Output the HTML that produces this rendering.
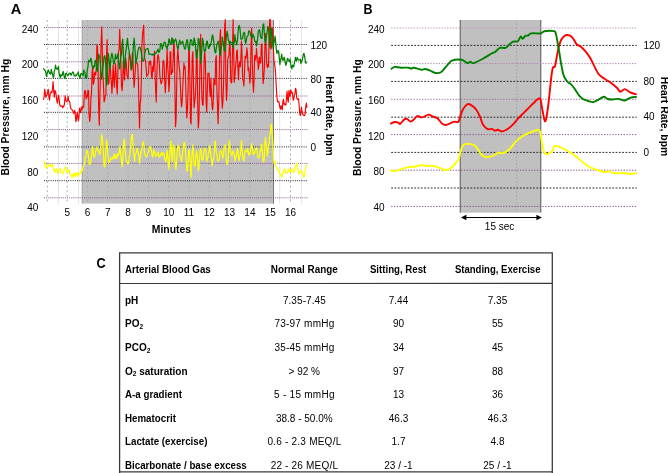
<!DOCTYPE html>
<html><head><meta charset="utf-8"><title>Figure</title>
<style>html,body{margin:0;padding:0;background:#fff;}svg{display:block;will-change:transform;}</style></head>
<body>
<svg width="668" height="473" viewBox="0 0 668 473" font-family="'Liberation Sans', sans-serif" fill="#000">
<rect width="668" height="473" fill="#fff"/>
<g id="A">
<rect x="82.2" y="20" width="191.8" height="183.6" fill="#c0c0c0"/>
<line x1="47.3" y1="20" x2="47.3" y2="203.6" stroke="#adadad" stroke-width="1" stroke-dasharray="2,2.6"/>
<line x1="67.2" y1="20" x2="67.2" y2="203.6" stroke="#adadad" stroke-width="1" stroke-dasharray="2,2.6"/>
<line x1="87.5" y1="20" x2="87.5" y2="203.6" stroke="#adadad" stroke-width="1" stroke-dasharray="2,2.6"/>
<line x1="107.8" y1="20" x2="107.8" y2="203.6" stroke="#adadad" stroke-width="1" stroke-dasharray="2,2.6"/>
<line x1="128.1" y1="20" x2="128.1" y2="203.6" stroke="#adadad" stroke-width="1" stroke-dasharray="2,2.6"/>
<line x1="148.4" y1="20" x2="148.4" y2="203.6" stroke="#adadad" stroke-width="1" stroke-dasharray="2,2.6"/>
<line x1="168.7" y1="20" x2="168.7" y2="203.6" stroke="#adadad" stroke-width="1" stroke-dasharray="2,2.6"/>
<line x1="189.0" y1="20" x2="189.0" y2="203.6" stroke="#adadad" stroke-width="1" stroke-dasharray="2,2.6"/>
<line x1="209.3" y1="20" x2="209.3" y2="203.6" stroke="#adadad" stroke-width="1" stroke-dasharray="2,2.6"/>
<line x1="229.6" y1="20" x2="229.6" y2="203.6" stroke="#adadad" stroke-width="1" stroke-dasharray="2,2.6"/>
<line x1="249.9" y1="20" x2="249.9" y2="203.6" stroke="#adadad" stroke-width="1" stroke-dasharray="2,2.6"/>
<line x1="270.2" y1="20" x2="270.2" y2="203.6" stroke="#adadad" stroke-width="1" stroke-dasharray="2,2.6"/>
<line x1="290.5" y1="20" x2="290.5" y2="203.6" stroke="#adadad" stroke-width="1" stroke-dasharray="2,2.6"/>
<line x1="58.4" y1="20" x2="58.4" y2="203.6" stroke="#dcdcdc" stroke-width="0.8"/>
<line x1="78.6" y1="20" x2="78.6" y2="203.6" stroke="#dcdcdc" stroke-width="0.8"/>
<line x1="279.7" y1="20" x2="279.7" y2="203.6" stroke="#dcdcdc" stroke-width="0.8"/>
<line x1="301.4" y1="20" x2="301.4" y2="203.6" stroke="#dcdcdc" stroke-width="0.8"/>
<line x1="82.2" y1="20" x2="82.2" y2="203.6" stroke="#a0a0a0" stroke-width="1"/>
<line x1="273.5" y1="20" x2="273.5" y2="203.6" stroke="#787878" stroke-width="1"/>
<line x1="44" y1="27.5" x2="307.5" y2="27.5" stroke="#8a548a" stroke-width="1" stroke-dasharray="1,1.1"/>
<line x1="44" y1="61.8" x2="307.5" y2="61.8" stroke="#8a548a" stroke-width="1" stroke-dasharray="1,1.1"/>
<line x1="44" y1="96" x2="307.5" y2="96" stroke="#8a548a" stroke-width="1" stroke-dasharray="1,1.1"/>
<line x1="44" y1="129.6" x2="307.5" y2="129.6" stroke="#8a548a" stroke-width="1" stroke-dasharray="1,1.1"/>
<line x1="44" y1="163.4" x2="307.5" y2="163.4" stroke="#8a548a" stroke-width="1" stroke-dasharray="1,1.1"/>
<line x1="44" y1="197.8" x2="307.5" y2="197.8" stroke="#8a548a" stroke-width="1" stroke-dasharray="1,1.1"/>
<line x1="44" y1="44.5" x2="307.5" y2="44.5" stroke="#222" stroke-width="1" stroke-dasharray="1,1.2"/>
<line x1="44" y1="78.4" x2="307.5" y2="78.4" stroke="#222" stroke-width="1" stroke-dasharray="1,1.2"/>
<line x1="44" y1="112.3" x2="307.5" y2="112.3" stroke="#222" stroke-width="1" stroke-dasharray="1,1.2"/>
<line x1="44" y1="146.9" x2="307.5" y2="146.9" stroke="#222" stroke-width="1" stroke-dasharray="1,1.2"/>
<line x1="44" y1="180.7" x2="307.5" y2="180.7" stroke="#222" stroke-width="1" stroke-dasharray="1,1.2"/>
<path d="M43.5,161.3 L44.1,161.2 L44.7,162.6 L45.3,166.7 L45.9,165.2 L46.5,168.0 L47.1,168.1 L47.7,166.4 L48.3,165.8 L48.9,164.9 L49.5,165.9 L50.1,164.4 L50.7,165.6 L51.3,166.4 L51.9,164.3 L52.5,166.3 L53.1,167.8 L53.7,168.2 L54.3,172.1 L54.9,172.6 L55.5,169.6 L56.1,170.4 L56.7,168.8 L57.3,169.8 L57.9,173.3 L58.5,170.5 L59.1,169.7 L59.7,169.3 L60.3,168.5 L60.9,171.2 L61.5,173.1 L62.1,173.2 L62.7,174.1 L63.3,172.3 L63.9,170.2 L64.5,168.1 L65.1,166.9 L65.7,168.7 L66.3,169.8 L66.9,172.4 L67.5,171.9 L68.1,170.2 L68.7,170.0 L69.3,170.0 L69.9,174.3 L70.5,174.6 L71.1,174.8 L71.7,177.0 L72.3,174.9 L72.9,174.5 L73.5,177.3 L74.1,173.0 L74.7,173.6 L75.3,176.4 L75.9,173.1 L76.5,174.9 L77.1,175.2 L77.7,172.6 L78.3,176.5 L78.9,174.0 L79.5,173.6 L80.1,173.8 L80.7,171.2 L81.3,172.3 L81.9,169.5 L82.5,170.3 L83.1,166.9 L83.7,165.7 L84.3,164.8 L84.9,159.5 L85.5,156.3 L86.1,156.0 L86.7,150.0 L87.3,150.6 L87.9,153.2 L88.5,156.8 L89.1,164.2 L89.7,163.9 L90.3,164.1 L90.9,160.3 L91.5,155.7 L92.1,150.4 L92.7,146.7 L93.3,152.3 L93.9,157.3 L94.5,156.4 L95.1,155.3 L95.7,150.5 L96.3,149.2 L96.9,146.8 L97.5,150.2 L98.1,150.8 L98.7,150.6 L99.3,153.3 L99.9,154.7 L100.5,151.5 L101.1,141.4 L101.7,134.9 L102.3,137.6 L102.9,145.3 L103.5,154.3 L104.1,166.0 L104.7,166.9 L105.3,161.0 L105.9,151.0 L106.5,140.1 L107.1,142.6 L107.7,152.6 L108.3,159.8 L108.9,162.7 L109.5,161.8 L110.1,161.3 L110.7,158.1 L111.3,158.5 L111.9,159.2 L112.5,157.1 L113.1,158.7 L113.7,158.4 L114.3,154.2 L114.9,158.2 L115.5,156.4 L116.1,154.8 L116.7,158.6 L117.3,155.3 L117.9,153.4 L118.5,155.6 L119.1,153.2 L119.7,146.9 L120.3,151.2 L120.9,155.2 L121.5,160.9 L122.1,166.6 L122.7,160.3 L123.3,148.0 L123.9,139.1 L124.5,141.3 L125.1,148.7 L125.7,155.9 L126.3,160.0 L126.9,162.9 L127.5,163.5 L128.1,163.9 L128.7,161.6 L129.3,156.2 L129.9,154.6 L130.5,149.0 L131.1,141.5 L131.7,135.6 L132.3,134.3 L132.9,144.1 L133.5,151.3 L134.1,156.4 L134.7,161.3 L135.3,154.0 L135.9,153.5 L136.5,151.5 L137.1,148.1 L137.7,151.0 L138.3,153.4 L138.9,155.8 L139.5,163.4 L140.1,158.4 L140.7,152.1 L141.3,153.1 L141.9,148.1 L142.5,143.7 L143.1,141.8 L143.7,143.2 L144.3,150.3 L144.9,154.3 L145.5,155.8 L146.1,156.9 L146.7,156.6 L147.3,155.3 L147.9,153.3 L148.5,151.8 L149.1,148.0 L149.7,146.5 L150.3,146.8 L150.9,148.0 L151.5,150.8 L152.1,155.0 L152.7,157.4 L153.3,154.2 L153.9,150.0 L154.5,151.5 L155.1,153.3 L155.7,156.2 L156.3,156.0 L156.9,155.1 L157.5,153.4 L158.1,151.9 L158.7,155.5 L159.3,157.2 L159.9,156.7 L160.5,154.6 L161.1,153.5 L161.7,152.6 L162.3,155.6 L162.9,154.8 L163.5,152.7 L164.1,155.3 L164.7,158.9 L165.3,159.3 L165.9,161.5 L166.5,156.8 L167.1,150.4 L167.7,154.3 L168.3,164.0 L168.9,169.2 L169.5,159.0 L170.1,147.5 L170.7,141.1 L171.3,147.6 L171.9,158.4 L172.5,161.2 L173.1,146.0 L173.7,145.1 L174.3,149.1 L174.9,159.5 L175.5,168.8 L176.1,168.7 L176.7,159.2 L177.3,151.2 L177.9,146.7 L178.5,145.3 L179.1,147.1 L179.7,155.0 L180.3,157.8 L180.9,158.0 L181.5,161.3 L182.1,157.6 L182.7,151.8 L183.3,148.0 L183.9,142.8 L184.5,142.4 L185.1,146.8 L185.7,155.3 L186.3,161.1 L186.9,170.9 L187.5,170.8 L188.1,159.8 L188.7,150.9 L189.3,149.6 L189.9,157.4 L190.5,168.8 L191.1,177.6 L191.7,161.4 L192.3,151.0 L192.9,144.9 L193.5,154.8 L194.1,164.5 L194.7,166.4 L195.3,164.4 L195.9,157.2 L196.5,151.0 L197.1,153.5 L197.7,159.8 L198.3,170.7 L198.9,169.0 L199.5,159.2 L200.1,150.8 L200.7,148.3 L201.3,151.2 L201.9,159.2 L202.5,160.3 L203.1,159.4 L203.7,154.7 L204.3,148.8 L204.9,148.7 L205.5,148.6 L206.1,153.5 L206.7,161.3 L207.3,159.7 L207.9,157.3 L208.5,154.1 L209.1,150.2 L209.7,145.4 L210.3,150.6 L210.9,155.2 L211.5,158.5 L212.1,165.9 L212.7,160.5 L213.3,159.8 L213.9,156.4 L214.5,148.9 L215.1,140.8 L215.7,145.6 L216.3,151.6 L216.9,153.7 L217.5,160.8 L218.1,160.8 L218.7,160.9 L219.3,159.3 L219.9,153.5 L220.5,151.2 L221.1,150.6 L221.7,152.3 L222.3,154.8 L222.9,158.3 L223.5,153.4 L224.1,147.0 L224.7,146.3 L225.3,144.8 L225.9,153.1 L226.5,161.3 L227.1,164.5 L227.7,163.3 L228.3,159.0 L228.9,146.1 L229.5,140.4 L230.1,149.8 L230.7,152.1 L231.3,153.7 L231.9,156.2 L232.5,152.6 L233.1,150.6 L233.7,152.8 L234.3,153.8 L234.9,161.1 L235.5,158.4 L236.1,156.6 L236.7,154.3 L237.3,148.7 L237.9,150.2 L238.5,157.9 L239.1,160.7 L239.7,156.3 L240.3,155.0 L240.9,146.9 L241.5,140.6 L242.1,149.6 L242.7,157.0 L243.3,160.0 L243.9,161.1 L244.5,153.8 L245.1,150.8 L245.7,151.6 L246.3,150.7 L246.9,151.9 L247.5,148.4 L248.1,150.5 L248.7,154.9 L249.3,153.1 L249.9,154.6 L250.5,151.8 L251.1,146.5 L251.7,143.7 L252.3,147.9 L252.9,153.7 L253.5,154.5 L254.1,152.9 L254.7,153.0 L255.3,149.2 L255.9,149.1 L256.5,147.8 L257.1,149.7 L257.7,156.7 L258.3,158.1 L258.9,156.9 L259.5,157.0 L260.1,150.6 L260.7,151.7 L261.3,144.9 L261.9,144.0 L262.5,153.0 L263.1,161.5 L263.7,161.9 L264.3,157.9 L264.9,144.0 L265.5,137.5 L266.1,143.8 L266.7,147.0 L267.3,156.2 L267.9,151.5 L268.5,145.8 L269.1,144.2 L269.7,136.5 L270.3,133.2 L270.9,125.7 L271.5,124.2 L272.1,132.9 L272.7,141.1 L273.3,151.8 L273.9,162.8 L274.5,162.8 L275.1,161.3 L275.7,166.4 L276.3,166.7 L276.9,167.6 L277.5,169.9 L278.1,168.9 L278.7,170.9 L279.3,172.5 L279.9,174.4 L280.5,174.2 L281.1,175.5 L281.7,177.3 L282.3,174.8 L282.9,173.6 L283.5,171.3 L284.1,168.9 L284.7,169.5 L285.3,170.9 L285.9,173.3 L286.5,172.9 L287.1,172.7 L287.7,172.7 L288.3,168.7 L288.9,170.5 L289.5,171.4 L290.1,171.1 L290.7,171.6 L291.3,169.7 L291.9,168.9 L292.5,169.0 L293.1,171.5 L293.7,172.7 L294.3,170.8 L294.9,168.7 L295.5,166.2 L296.1,165.2 L296.7,163.1 L297.3,165.5 L297.9,170.1 L298.5,170.3 L299.1,174.1 L299.7,172.5 L300.3,171.9 L300.9,171.4 L301.5,170.1 L302.1,172.9 L302.7,173.2 L303.3,176.2 L303.9,177.4 L304.5,174.5 L305.1,171.9 L305.7,168.0 L306.3,165.8 L306.9,164.4" fill="none" stroke="#ffff00" stroke-width="1.25" stroke-linejoin="round"/>
<path d="M43.5,100.0 L44.1,96.5 L44.7,89.2 L45.3,93.2 L45.9,97.3 L46.5,95.8 L47.1,94.7 L47.7,91.3 L48.3,89.4 L48.9,96.9 L49.5,100.1 L50.1,94.2 L50.7,92.6 L51.3,91.6 L51.9,92.7 L52.5,88.6 L53.1,81.5 L53.7,90.6 L54.3,97.2 L54.9,90.5 L55.5,91.3 L56.1,94.7 L56.7,100.0 L57.3,103.2 L57.9,99.3 L58.5,95.3 L59.1,98.3 L59.7,104.8 L60.3,106.2 L60.9,105.9 L61.5,106.1 L62.1,106.0 L62.7,107.8 L63.3,106.2 L63.9,106.4 L64.5,103.3 L65.1,95.7 L65.7,99.7 L66.3,101.4 L66.9,101.7 L67.5,100.7 L68.1,96.4 L68.7,100.7 L69.3,101.2 L69.9,102.6 L70.5,107.7 L71.1,109.0 L71.7,109.2 L72.3,110.2 L72.9,110.9 L73.5,113.3 L74.1,113.2 L74.7,110.4 L75.3,114.8 L75.9,121.8 L76.5,118.9 L77.1,112.4 L77.7,115.2 L78.3,120.9 L78.9,117.7 L79.5,108.2 L80.1,111.9 L80.7,112.8 L81.3,107.1 L81.9,109.6 L82.5,106.7 L83.1,107.4 L83.7,107.2 L84.3,94.7 L84.9,90.3 L85.5,91.3 L86.1,98.9 L86.7,95.3 L87.3,97.1 L87.9,90.3 L88.5,90.5 L89.1,114.7 L89.7,121.5 L90.3,115.2 L90.9,98.9 L91.5,93.2 L92.1,72.7 L92.7,66.7 L93.3,84.3 L93.9,82.4 L94.5,73.6 L95.1,72.2 L95.7,75.2 L96.3,68.5 L96.9,44.9 L97.5,47.2 L98.1,71.5 L98.7,109.5 L99.3,125.1 L99.9,95.9 L100.5,70.5 L101.1,43.8 L101.7,26.8 L102.3,49.4 L102.9,75.0 L103.5,85.7 L104.1,101.9 L104.7,99.8 L105.3,95.2 L105.9,95.2 L106.5,55.3 L107.1,39.7 L107.7,73.2 L108.3,84.1 L108.9,83.4 L109.5,69.2 L110.1,62.9 L110.7,73.7 L111.3,81.3 L111.9,93.3 L112.5,83.4 L113.1,65.0 L113.7,76.7 L114.3,87.3 L114.9,75.3 L115.5,63.7 L116.1,74.4 L116.7,87.8 L117.3,93.9 L117.9,70.6 L118.5,51.3 L119.1,50.0 L119.7,29.4 L120.3,45.3 L120.9,63.1 L121.5,86.3 L122.1,90.7 L122.7,82.0 L123.3,61.4 L123.9,67.8 L124.5,79.9 L125.1,70.8 L125.7,58.2 L126.3,63.2 L126.9,75.3 L127.5,76.3 L128.1,78.9 L128.7,63.1 L129.3,53.4 L129.9,55.6 L130.5,59.2 L131.1,67.4 L131.7,70.0 L132.3,53.0 L132.9,55.2 L133.5,74.4 L134.1,87.3 L134.7,80.0 L135.3,69.6 L135.9,59.3 L136.5,62.5 L137.1,63.2 L137.7,64.5 L138.3,78.2 L138.9,103.2 L139.5,128.0 L140.1,104.3 L140.7,99.8 L141.3,81.2 L141.9,45.7 L142.5,35.4 L143.1,30.1 L143.7,25.2 L144.3,54.7 L144.9,59.7 L145.5,60.4 L146.1,67.9 L146.7,76.5 L147.3,75.4 L147.9,74.7 L148.5,72.7 L149.1,61.9 L149.7,64.3 L150.3,60.9 L150.9,64.1 L151.5,76.3 L152.1,78.6 L152.7,66.4 L153.3,71.3 L153.9,60.3 L154.5,51.1 L155.1,75.1 L155.7,91.4 L156.3,101.9 L156.9,71.8 L157.5,58.2 L158.1,54.3 L158.7,57.5 L159.3,63.3 L159.9,76.4 L160.5,80.1 L161.1,83.8 L161.7,82.7 L162.3,79.4 L162.9,62.4 L163.5,60.3 L164.1,64.4 L164.7,81.4 L165.3,92.7 L165.9,82.8 L166.5,64.7 L167.1,48.9 L167.7,66.3 L168.3,75.1 L168.9,91.6 L169.5,82.0 L170.1,52.1 L170.7,51.7 L171.3,74.6 L171.9,70.4 L172.5,72.5 L173.1,61.3 L173.7,39.7 L174.3,47.1 L174.9,84.4 L175.5,126.7 L176.1,118.8 L176.7,85.1 L177.3,57.3 L177.9,49.4 L178.5,58.1 L179.1,66.5 L179.7,70.6 L180.3,83.3 L180.9,97.7 L181.5,106.8 L182.1,102.3 L182.7,87.9 L183.3,76.2 L183.9,63.0 L184.5,68.9 L185.1,66.5 L185.7,84.2 L186.3,103.9 L186.9,118.0 L187.5,107.5 L188.1,89.6 L188.7,51.8 L189.3,48.9 L189.9,79.8 L190.5,120.1 L191.1,123.9 L191.7,85.7 L192.3,56.1 L192.9,51.6 L193.5,85.6 L194.1,107.8 L194.7,102.1 L195.3,96.3 L195.9,83.8 L196.5,49.9 L197.1,55.6 L197.7,103.9 L198.3,128.0 L198.9,120.1 L199.5,90.0 L200.1,57.5 L200.7,34.4 L201.3,67.3 L201.9,96.4 L202.5,105.0 L203.1,105.1 L203.7,80.6 L204.3,55.0 L204.9,51.3 L205.5,65.9 L206.1,101.6 L206.7,112.0 L207.3,90.3 L207.9,73.2 L208.5,73.3 L209.1,73.2 L209.7,90.4 L210.3,96.7 L210.9,78.3 L211.5,93.8 L212.1,106.8 L212.7,109.8 L213.3,101.2 L213.9,78.9 L214.5,83.9 L215.1,84.8 L215.7,58.8 L216.3,55.6 L216.9,89.0 L217.5,106.2 L218.1,123.7 L218.7,103.0 L219.3,75.0 L219.9,38.2 L220.5,29.6 L221.1,57.0 L221.7,95.8 L222.3,108.3 L222.9,101.7 L223.5,85.9 L224.1,55.3 L224.7,25.6 L225.3,19.5 L225.9,81.9 L226.5,100.3 L227.1,88.3 L227.7,60.7 L228.3,57.3 L228.9,55.8 L229.5,41.7 L230.1,44.7 L230.7,79.8 L231.3,83.0 L231.9,81.3 L232.5,49.4 L233.1,19.5 L233.7,53.0 L234.3,82.3 L234.9,77.4 L235.5,67.2 L236.1,61.7 L236.7,50.8 L237.3,50.0 L237.9,67.6 L238.5,79.7 L239.1,64.6 L239.7,61.7 L240.3,66.9 L240.9,58.2 L241.5,41.0 L242.1,57.8 L242.7,79.5 L243.3,80.8 L243.9,85.9 L244.5,73.2 L245.1,56.1 L245.7,58.7 L246.3,56.8 L246.9,47.8 L247.5,54.1 L248.1,70.7 L248.7,67.8 L249.3,74.9 L249.9,83.1 L250.5,75.7 L251.1,42.9 L251.7,28.2 L252.3,61.9 L252.9,82.0 L253.5,92.2 L254.1,79.5 L254.7,55.9 L255.3,55.3 L255.9,60.0 L256.5,48.3 L257.1,56.8 L257.7,58.0 L258.3,69.5 L258.9,65.1 L259.5,57.2 L260.1,62.1 L260.7,63.2 L261.3,46.2 L261.9,43.8 L262.5,62.4 L263.1,83.6 L263.7,77.3 L264.3,69.9 L264.9,48.3 L265.5,33.6 L266.1,48.3 L266.7,62.9 L267.3,67.7 L267.9,64.3 L268.5,66.7 L269.1,41.4 L269.7,19.5 L270.3,19.5 L270.9,49.1 L271.5,47.3 L272.1,40.5 L272.7,27.7 L273.3,43.5 L273.9,60.1 L274.5,63.7 L275.1,67.9 L275.7,75.4 L276.3,87.3 L276.9,96.8 L277.5,101.6 L278.1,102.0 L278.7,101.4 L279.3,103.9 L279.9,107.6 L280.5,109.2 L281.1,105.6 L281.7,107.6 L282.3,109.8 L282.9,101.4 L283.5,99.3 L284.1,104.6 L284.7,103.7 L285.3,104.0 L285.9,105.2 L286.5,97.7 L287.1,91.2 L287.7,99.6 L288.3,102.1 L288.9,90.5 L289.5,93.1 L290.1,97.0 L290.7,90.0 L291.3,91.2 L291.9,93.3 L292.5,92.5 L293.1,100.1 L293.7,99.6 L294.3,95.3 L294.9,94.3 L295.5,88.4 L296.1,89.8 L296.7,97.7 L297.3,99.4 L297.9,99.1 L298.5,98.7 L299.1,104.8 L299.7,112.6 L300.3,115.7 L300.9,111.8 L301.5,107.2 L302.1,112.0 L302.7,114.5 L303.3,114.7 L303.9,115.7 L304.5,115.4 L305.1,114.1 L305.7,107.2 L306.3,103.0 L306.9,107.8" fill="none" stroke="#ff0000" stroke-width="1.15" stroke-linejoin="round"/>
<path d="M43.5,68.1 L44.1,69.7 L44.7,70.1 L45.3,70.7 L45.9,72.7 L46.5,76.3 L47.1,73.9 L47.7,71.7 L48.3,70.0 L48.9,71.4 L49.5,73.7 L50.1,73.1 L50.7,74.2 L51.3,69.3 L51.9,72.0 L52.5,73.9 L53.1,77.2 L53.7,77.2 L54.3,71.0 L54.9,70.0 L55.5,65.1 L56.1,68.0 L56.7,69.0 L57.3,69.4 L57.9,68.0 L58.5,66.6 L59.1,73.8 L59.7,75.7 L60.3,77.6 L60.9,74.6 L61.5,75.8 L62.1,75.7 L62.7,73.0 L63.3,71.5 L63.9,74.9 L64.5,77.8 L65.1,78.5 L65.7,73.6 L66.3,73.2 L66.9,74.1 L67.5,74.7 L68.1,75.6 L68.7,73.8 L69.3,73.9 L69.9,73.0 L70.5,73.7 L71.1,75.3 L71.7,73.7 L72.3,72.8 L72.9,71.9 L73.5,72.9 L74.1,75.9 L74.7,76.0 L75.3,75.8 L75.9,74.9 L76.5,75.6 L77.1,74.0 L77.7,73.3 L78.3,71.9 L78.9,76.2 L79.5,75.9 L80.1,78.5 L80.7,73.8 L81.3,74.1 L81.9,73.6 L82.5,74.4 L83.1,75.7 L83.7,70.1 L84.3,71.5 L84.9,72.1 L85.5,77.7 L86.1,75.1 L86.7,78.2 L87.3,69.0 L87.9,67.7 L88.5,60.3 L89.1,61.4 L89.7,61.9 L90.3,60.2 L90.9,58.2 L91.5,61.1 L92.1,66.4 L92.7,66.7 L93.3,68.5 L93.9,65.6 L94.5,66.7 L95.1,60.7 L95.7,60.5 L96.3,64.0 L96.9,71.0 L97.5,71.3 L98.1,62.9 L98.7,54.1 L99.3,56.4 L99.9,57.7 L100.5,65.9 L101.1,74.0 L101.7,79.3 L102.3,74.1 L102.9,67.5 L103.5,62.8 L104.1,56.4 L104.7,55.8 L105.3,58.8 L105.9,68.5 L106.5,85.3 L107.1,82.4 L107.7,63.0 L108.3,53.3 L108.9,58.3 L109.5,64.2 L110.1,68.6 L110.7,60.9 L111.3,55.6 L111.9,53.1 L112.5,55.3 L113.1,60.5 L113.7,64.1 L114.3,63.3 L114.9,59.3 L115.5,54.1 L116.1,58.8 L116.7,58.0 L117.3,56.7 L117.9,54.0 L118.5,60.8 L119.1,65.2 L119.7,69.0 L120.3,61.1 L120.9,55.9 L121.5,54.9 L122.1,43.3 L122.7,39.1 L123.3,51.8 L123.9,67.2 L124.5,68.4 L125.1,59.1 L125.7,52.1 L126.3,48.2 L126.9,42.6 L127.5,38.3 L128.1,45.6 L128.7,48.8 L129.3,52.1 L129.9,57.5 L130.5,61.3 L131.1,69.9 L131.7,68.1 L132.3,63.4 L132.9,54.0 L133.5,44.3 L134.1,38.2 L134.7,44.7 L135.3,54.0 L135.9,63.3 L136.5,60.0 L137.1,57.7 L137.7,52.1 L138.3,49.4 L138.9,47.3 L139.5,47.2 L140.1,47.3 L140.7,50.1 L141.3,52.5 L141.9,57.4 L142.5,60.9 L143.1,61.0 L143.7,60.9 L144.3,57.1 L144.9,53.0 L145.5,49.7 L146.1,49.2 L146.7,49.0 L147.3,48.5 L147.9,48.7 L148.5,50.9 L149.1,54.5 L149.7,54.2 L150.3,54.0 L150.9,54.0 L151.5,54.7 L152.1,55.0 L152.7,54.2 L153.3,55.0 L153.9,54.2 L154.5,54.6 L155.1,53.5 L155.7,53.1 L156.3,53.0 L156.9,51.2 L157.5,51.3 L158.1,49.0 L158.7,52.1 L159.3,51.9 L159.9,50.5 L160.5,43.6 L161.1,43.5 L161.7,44.7 L162.3,49.1 L162.9,45.7 L163.5,45.8 L164.1,42.1 L164.7,42.2 L165.3,42.7 L165.9,46.6 L166.5,46.5 L167.1,49.0 L167.7,45.7 L168.3,45.1 L168.9,38.8 L169.5,39.9 L170.1,42.6 L170.7,44.3 L171.3,43.7 L171.9,37.8 L172.5,38.7 L173.1,43.9 L173.7,43.2 L174.3,40.8 L174.9,40.9 L175.5,38.9 L176.1,40.5 L176.7,43.0 L177.3,47.6 L177.9,49.2 L178.5,47.0 L179.1,42.8 L179.7,40.1 L180.3,42.9 L180.9,43.6 L181.5,43.1 L182.1,42.1 L182.7,41.1 L183.3,44.3 L183.9,45.8 L184.5,48.9 L185.1,49.1 L185.7,47.7 L186.3,42.3 L186.9,39.7 L187.5,40.5 L188.1,46.3 L188.7,50.2 L189.3,49.9 L189.9,44.1 L190.5,39.8 L191.1,39.9 L191.7,40.1 L192.3,45.1 L192.9,44.1 L193.5,45.3 L194.1,37.9 L194.7,39.8 L195.3,43.9 L195.9,51.5 L196.5,58.4 L197.1,56.8 L197.7,49.8 L198.3,38.6 L198.9,38.6 L199.5,44.6 L200.1,51.4 L200.7,63.4 L201.3,57.9 L201.9,48.8 L202.5,38.3 L203.1,40.9 L203.7,46.0 L204.3,51.6 L204.9,50.0 L205.5,50.7 L206.1,45.7 L206.7,41.6 L207.3,41.1 L207.9,45.0 L208.5,48.4 L209.1,48.0 L209.7,44.8 L210.3,45.9 L210.9,43.6 L211.5,40.9 L212.1,36.2 L212.7,35.0 L213.3,38.4 L213.9,42.8 L214.5,49.1 L215.1,52.3 L215.7,52.9 L216.3,48.2 L216.9,44.5 L217.5,42.9 L218.1,41.1 L218.7,44.5 L219.3,49.0 L219.9,55.5 L220.5,54.1 L221.1,49.0 L221.7,44.8 L222.3,37.0 L222.9,41.5 L223.5,42.9 L224.1,49.9 L224.7,50.9 L225.3,49.8 L225.9,42.0 L226.5,35.9 L227.1,31.1 L227.7,34.6 L228.3,40.1 L228.9,41.5 L229.5,44.2 L230.1,41.1 L230.7,43.0 L231.3,42.8 L231.9,42.5 L232.5,42.7 L233.1,47.9 L233.7,44.4 L234.3,42.0 L234.9,34.7 L235.5,40.3 L236.1,42.1 L236.7,44.9 L237.3,41.0 L237.9,34.6 L238.5,27.8 L239.1,25.4 L239.7,27.3 L240.3,31.7 L240.9,39.2 L241.5,38.7 L242.1,38.9 L242.7,37.9 L243.3,34.0 L243.9,32.7 L244.5,32.3 L245.1,40.3 L245.7,43.3 L246.3,40.7 L246.9,36.9 L247.5,36.2 L248.1,35.4 L248.7,31.0 L249.3,31.1 L249.9,31.7 L250.5,34.0 L251.1,36.5 L251.7,36.7 L252.3,37.9 L252.9,34.0 L253.5,36.1 L254.1,37.1 L254.7,41.1 L255.3,41.9 L255.9,41.3 L256.5,46.0 L257.1,42.4 L257.7,38.4 L258.3,31.8 L258.9,30.5 L259.5,29.7 L260.1,33.7 L260.7,37.2 L261.3,38.3 L261.9,38.4 L262.5,30.1 L263.1,24.7 L263.7,23.8 L264.3,32.8 L264.9,40.4 L265.5,43.0 L266.1,39.0 L266.7,35.2 L267.3,30.5 L267.9,26.5 L268.5,27.9 L269.1,36.2 L269.7,47.2 L270.3,43.2 L270.9,29.0 L271.5,28.1 L272.1,38.3 L272.7,43.4 L273.3,48.8 L273.9,42.9 L274.5,40.3 L275.1,36.2 L275.7,42.6 L276.3,48.8 L276.9,53.5 L277.5,51.4 L278.1,50.5 L278.7,52.1 L279.3,58.6 L279.9,64.5 L280.5,59.9 L281.1,58.2 L281.7,54.1 L282.3,59.4 L282.9,60.4 L283.5,59.7 L284.1,57.2 L284.7,59.2 L285.3,63.0 L285.9,65.4 L286.5,63.1 L287.1,60.2 L287.7,58.3 L288.3,60.3 L288.9,60.6 L289.5,61.6 L290.1,59.0 L290.7,63.9 L291.3,67.2 L291.9,68.9 L292.5,65.2 L293.1,65.9 L293.7,66.8 L294.3,63.4 L294.9,60.7 L295.5,57.4 L296.1,60.6 L296.7,60.7 L297.3,57.5 L297.9,59.3 L298.5,59.8 L299.1,60.1 L299.7,59.7 L300.3,59.1 L300.9,63.7 L301.5,61.0 L302.1,60.7 L302.7,58.2 L303.3,54.5 L303.9,53.3 L304.5,55.4 L305.1,59.7 L305.7,63.0 L306.3,62.9 L306.9,63.1" fill="none" stroke="#008000" stroke-width="1.25" stroke-linejoin="round"/>
<text x="10.8" y="13.9" font-size="14.6" font-weight="bold">A</text>
<text x="38.4" y="32.7" font-size="10" text-anchor="end">240</text>
<text x="38.4" y="68.4" font-size="10" text-anchor="end">200</text>
<text x="38.4" y="104.1" font-size="10" text-anchor="end">160</text>
<text x="38.4" y="139.9" font-size="10" text-anchor="end">120</text>
<text x="38.4" y="175.6" font-size="10" text-anchor="end">80</text>
<text x="38.4" y="211.3" font-size="10" text-anchor="end">40</text>
<text x="310.5" y="48.6" font-size="10">120</text>
<text x="310.5" y="83.2" font-size="10">80</text>
<text x="310.5" y="115.9" font-size="10">40</text>
<text x="310.5" y="150.5" font-size="10">0</text>
<text x="67.2" y="216.4" font-size="10" text-anchor="middle">5</text>
<text x="87.5" y="216.4" font-size="10" text-anchor="middle">6</text>
<text x="107.8" y="216.4" font-size="10" text-anchor="middle">7</text>
<text x="128.1" y="216.4" font-size="10" text-anchor="middle">8</text>
<text x="148.4" y="216.4" font-size="10" text-anchor="middle">9</text>
<text x="168.7" y="216.4" font-size="10" text-anchor="middle">10</text>
<text x="189.0" y="216.4" font-size="10" text-anchor="middle">11</text>
<text x="209.3" y="216.4" font-size="10" text-anchor="middle">12</text>
<text x="229.6" y="216.4" font-size="10" text-anchor="middle">13</text>
<text x="249.9" y="216.4" font-size="10" text-anchor="middle">14</text>
<text x="270.2" y="216.4" font-size="10" text-anchor="middle">15</text>
<text x="290.5" y="216.4" font-size="10" text-anchor="middle">16</text>
<text x="171.4" y="233.3" font-size="10.4" font-weight="bold" text-anchor="middle">Minutes</text>
<text transform="translate(9.0,117.1) rotate(-90)" font-size="10.3" font-weight="bold" text-anchor="middle">Blood Pressure, mm Hg</text>
<text transform="translate(326.3,116) rotate(90)" font-size="10.35" font-weight="bold" text-anchor="middle">Heart Rate, bpm</text>
</g>
<g id="B">
<rect x="460.2" y="20.0" width="80.59999999999997" height="192.6" fill="#c0c0c0"/>
<line x1="516.7" y1="20.0" x2="516.7" y2="212.6" stroke="#999" stroke-width="0.8" stroke-dasharray="1.5,2"/>
<line x1="460.2" y1="20.0" x2="460.2" y2="212.6" stroke="#555" stroke-width="1"/>
<line x1="540.8" y1="20.0" x2="540.8" y2="212.6" stroke="#555" stroke-width="1"/>
<line x1="391.2" y1="28.0" x2="636.8" y2="28.0" stroke="#ba98ba" stroke-width="1" stroke-dasharray="1.3,1.5"/>
<line x1="391.2" y1="63.6" x2="636.8" y2="63.6" stroke="#ac84ac" stroke-width="1" stroke-dasharray="1.3,1.5"/>
<line x1="391.2" y1="99.3" x2="636.8" y2="99.3" stroke="#a070a0" stroke-width="1" stroke-dasharray="1.3,1.5"/>
<line x1="391.2" y1="134.6" x2="636.8" y2="134.6" stroke="#925a92" stroke-width="1" stroke-dasharray="1.3,1.5"/>
<line x1="391.2" y1="170.2" x2="636.8" y2="170.2" stroke="#8a4e8a" stroke-width="1" stroke-dasharray="1.3,1.5"/>
<line x1="391.2" y1="206.4" x2="636.8" y2="206.4" stroke="#8a4e8a" stroke-width="1" stroke-dasharray="1.3,1.5"/>
<line x1="391.2" y1="45.4" x2="636.8" y2="45.4" stroke="#2a2a2a" stroke-width="1" stroke-dasharray="1.8,1.5"/>
<line x1="391.2" y1="81.4" x2="636.8" y2="81.4" stroke="#2a2a2a" stroke-width="1" stroke-dasharray="1.8,1.5"/>
<line x1="391.2" y1="117.2" x2="636.8" y2="117.2" stroke="#2a2a2a" stroke-width="1" stroke-dasharray="1.8,1.5"/>
<line x1="391.2" y1="152.4" x2="636.8" y2="152.4" stroke="#2a2a2a" stroke-width="1" stroke-dasharray="1.8,1.5"/>
<line x1="391.2" y1="188.0" x2="636.8" y2="188.0" stroke="#2a2a2a" stroke-width="1" stroke-dasharray="1.8,1.5"/>
<path d="M390.3,170.1 C391.0,170.3 392.5,171.3 394.5,171.1 C396.5,170.9 399.6,169.5 402.1,168.8 C404.6,168.1 407.5,167.2 409.7,166.9 C411.9,166.6 413.5,167.0 415.4,166.7 C417.3,166.4 419.4,165.1 421.1,165.0 C422.9,164.9 423.8,165.8 425.9,165.9 C428.0,166.1 431.1,165.5 433.5,165.9 C435.9,166.3 438.1,167.5 440.2,168.2 C442.3,168.9 444.2,170.3 445.9,170.3 C447.6,170.3 449.0,169.3 450.6,168.2 C452.2,167.1 454.0,165.1 455.4,163.5 C456.8,161.9 457.9,160.8 458.8,158.7 C459.7,156.6 460.0,153.3 460.7,151.1 C461.4,148.9 462.0,146.6 463.0,145.4 C464.0,144.2 465.1,144.0 466.8,143.9 C468.5,143.8 471.7,144.1 473.4,144.8 C475.1,145.5 475.9,146.8 477.2,148.3 C478.5,149.8 479.7,152.6 481.0,154.0 C482.3,155.4 483.4,156.3 484.8,156.8 C486.2,157.3 488.0,157.1 489.6,156.8 C491.2,156.5 492.9,155.6 494.4,154.9 C495.9,154.2 497.6,152.7 498.8,152.4 C500.0,152.2 500.6,153.5 501.7,153.4 C502.8,153.3 504.1,152.9 505.5,152.1 C506.9,151.2 508.5,150.1 510.2,148.3 C511.9,146.6 514.0,143.5 515.9,141.6 C517.8,139.7 519.7,138.1 521.6,136.8 C523.5,135.5 525.4,134.5 527.3,133.6 C529.2,132.7 531.1,132.2 533.0,131.5 C534.9,130.8 537.2,129.5 538.4,129.6 C539.6,129.7 539.8,130.3 540.3,132.1 C540.8,133.9 541.1,137.6 541.6,140.6 C542.1,143.6 542.9,148.0 543.5,150.2 C544.1,152.4 544.6,153.4 545.4,154.0 C546.2,154.6 547.2,154.0 548.3,153.6 C549.3,153.2 550.8,152.8 551.7,151.7 C552.7,150.5 553.2,147.6 554.0,146.7 C554.8,145.8 555.1,145.9 556.2,146.0 C557.3,146.1 558.9,146.6 560.6,147.3 C562.3,148.0 564.2,149.0 566.3,150.2 C568.4,151.4 570.9,152.9 573.0,154.3 C575.1,155.7 576.8,157.2 578.7,158.7 C580.6,160.2 582.5,162.1 584.4,163.5 C586.3,164.9 587.9,166.2 590.1,167.3 C592.3,168.4 595.3,169.3 597.7,170.1 C600.1,170.9 602.5,171.8 604.4,172.0 C606.3,172.2 607.3,170.9 608.9,171.1 C610.5,171.3 611.8,172.9 614.2,173.2 C616.6,173.5 620.9,172.9 623.5,173.0 C626.1,173.1 627.9,174.0 630.1,174.0 C632.3,174.0 635.6,173.2 636.7,173.0" fill="none" stroke="#ffff00" stroke-width="1.9" stroke-linejoin="round"/>
<path d="M390.3,123.9 C391.0,123.6 393.2,122.2 394.5,122.0 C395.8,121.8 397.4,122.3 398.3,122.6 C399.2,122.9 399.2,124.4 400.2,123.9 C401.1,123.4 402.9,120.6 404.0,119.7 C405.1,118.8 405.8,118.5 406.9,118.8 C408.0,119.1 409.4,121.6 410.7,121.6 C412.0,121.6 413.3,119.8 414.5,118.8 C415.7,117.8 416.4,116.1 417.7,115.9 C419.0,115.7 420.3,117.6 422.1,117.4 C423.9,117.2 426.7,114.8 428.4,114.6 C430.1,114.4 431.0,115.9 432.5,116.5 C434.0,117.1 435.7,117.0 437.3,118.2 C438.9,119.4 440.6,122.4 442.0,123.5 C443.4,124.6 444.5,125.1 445.9,125.0 C447.3,124.9 449.2,123.7 450.6,123.1 C452.0,122.5 453.1,121.8 454.4,121.6 C455.7,121.4 457.2,122.8 458.2,122.0 C459.1,121.2 459.3,119.0 460.1,116.9 C460.9,114.8 461.7,111.4 463.0,109.3 C464.3,107.2 466.1,104.6 467.7,104.1 C469.3,103.5 471.1,105.0 472.5,106.0 C473.9,107.0 475.0,108.0 476.3,109.8 C477.6,111.6 479.0,114.5 480.1,116.9 C481.2,119.4 481.6,122.5 482.9,124.5 C484.2,126.5 486.3,128.5 487.7,129.2 C489.1,129.9 490.3,128.7 491.5,128.9 C492.7,129.1 493.9,130.4 495.0,130.6 C496.1,130.8 496.8,129.7 497.9,129.8 C499.0,130.0 500.3,131.5 501.7,131.5 C503.1,131.5 504.7,130.8 506.4,129.8 C508.1,128.8 510.2,127.2 512.1,125.4 C514.0,123.6 515.9,120.8 517.8,118.8 C519.7,116.8 521.6,115.0 523.5,113.1 C525.4,111.2 527.3,109.3 529.2,107.4 C531.1,105.5 533.2,103.2 534.9,101.7 C536.5,100.2 538.1,98.7 539.1,98.4 C540.1,98.1 540.0,97.8 540.6,99.8 C541.2,101.8 541.8,106.6 542.5,110.2 C543.2,113.8 544.1,120.2 544.8,121.2 C545.5,122.2 546.0,119.3 546.7,115.9 C547.4,112.5 548.2,105.4 548.8,100.6 C549.4,95.8 549.7,91.7 550.2,87.3 C550.7,82.9 551.2,77.3 551.7,74.0 C552.2,70.7 552.5,68.6 553.0,67.3 C553.5,66.0 554.3,68.2 554.9,66.4 C555.5,64.7 556.2,60.0 556.8,56.8 C557.4,53.6 558.0,50.1 558.7,47.3 C559.4,44.4 560.2,41.6 561.2,39.7 C562.2,37.8 563.4,36.7 564.4,35.9 C565.4,35.1 566.2,34.9 567.3,35.0 C568.4,35.1 570.0,35.5 571.1,36.3 C572.2,37.1 573.0,38.3 573.9,39.7 C574.8,41.1 575.7,43.4 576.8,44.5 C577.9,45.6 579.2,45.3 580.6,46.4 C582.0,47.5 583.7,49.2 585.3,51.1 C586.9,53.0 588.7,55.4 590.1,57.8 C591.5,60.2 592.5,62.7 593.9,65.4 C595.3,68.1 597.0,71.9 598.6,74.0 C600.2,76.1 601.6,76.8 603.4,78.1 C605.1,79.4 606.9,80.0 609.1,81.6 C611.4,83.2 615.0,86.1 616.9,87.8 C618.8,89.5 619.0,91.5 620.3,91.7 C621.6,91.9 623.2,89.0 624.8,89.1 C626.4,89.2 628.1,91.4 630.1,92.3 C632.1,93.2 635.6,94.1 636.7,94.4" fill="none" stroke="#ff0000" stroke-width="1.9" stroke-linejoin="round"/>
<path d="M390.9,69.2 C391.5,68.8 393.0,67.2 394.7,66.9 C396.4,66.7 398.8,67.6 401.1,67.7 C403.4,67.8 407.0,67.5 408.7,67.7 C410.4,67.9 410.3,68.7 411.2,68.7 C412.1,68.7 412.1,67.5 413.8,67.7 C415.5,67.9 419.5,69.5 421.4,69.7 C423.3,69.9 423.7,68.8 425.2,69.0 C426.7,69.2 428.6,70.0 430.3,70.7 C432.0,71.4 433.6,72.8 435.4,73.0 C437.2,73.2 439.4,73.2 441.3,72.0 C443.2,70.8 445.1,67.5 446.9,65.6 C448.7,63.7 449.6,61.6 452.0,60.6 C454.4,59.6 459.1,59.4 461.6,59.8 C464.1,60.2 465.8,62.8 467.2,63.1 C468.6,63.4 469.2,61.8 470.3,61.8 C471.4,61.8 471.6,63.6 473.6,63.1 C475.6,62.6 479.3,60.7 482.5,59.0 C485.7,57.3 490.6,54.0 492.7,52.9 C494.8,51.8 493.8,52.9 495.0,52.1 C496.2,51.3 498.1,48.6 499.8,47.9 C501.6,47.2 503.9,48.5 505.5,47.9 C507.1,47.3 508.0,45.5 509.3,44.5 C510.6,43.5 511.7,42.1 513.1,41.6 C514.5,41.1 516.5,42.1 517.8,41.2 C519.1,40.4 519.9,36.9 520.7,36.5 C521.5,36.1 521.8,38.9 522.6,38.8 C523.4,38.7 524.5,36.4 525.4,35.9 C526.3,35.4 527.3,35.9 528.3,35.5 C529.2,35.1 529.0,33.8 531.1,33.4 C533.2,33.0 538.4,33.8 540.6,33.4 C542.8,33.0 542.2,31.6 544.4,31.2 C546.6,30.8 552.1,30.7 554.0,31.2 C555.9,31.7 555.3,31.9 555.9,34.0 C556.5,36.0 557.2,40.0 557.8,43.5 C558.4,47.0 559.1,51.1 559.7,54.9 C560.3,58.7 560.9,62.9 561.6,66.4 C562.3,69.9 562.8,73.4 563.8,75.9 C564.8,78.4 566.1,80.2 567.3,81.6 C568.5,83.0 569.8,83.1 571.1,84.4 C572.4,85.7 573.6,87.5 574.9,89.2 C576.2,91.0 577.4,93.3 578.7,94.9 C580.0,96.5 580.9,97.7 582.5,98.7 C584.1,99.7 586.5,100.4 588.2,101.0 C590.0,101.6 591.3,102.3 593.0,102.1 C594.7,101.9 596.8,100.5 598.6,99.6 C600.4,98.7 602.3,96.9 603.8,96.8 C605.3,96.7 606.1,98.5 607.6,99.0 C609.1,99.5 611.1,99.5 612.9,99.5 C614.7,99.5 616.2,98.7 618.2,98.9 C620.2,99.1 622.8,100.7 624.8,100.5 C626.8,100.3 628.1,98.4 630.1,97.8 C632.1,97.2 635.6,97.1 636.7,97.0" fill="none" stroke="#008000" stroke-width="1.9" stroke-linejoin="round"/>
<text x="363.4" y="13.9" font-size="14.6" font-weight="bold" textLength="9" lengthAdjust="spacingAndGlyphs">B</text>
<text x="384.7" y="32.5" font-size="10" text-anchor="end">240</text>
<text x="384.7" y="68.2" font-size="10" text-anchor="end">200</text>
<text x="384.7" y="103.9" font-size="10" text-anchor="end">160</text>
<text x="384.7" y="139.6" font-size="10" text-anchor="end">120</text>
<text x="384.7" y="175.3" font-size="10" text-anchor="end">80</text>
<text x="384.7" y="211.0" font-size="10" text-anchor="end">40</text>
<text x="643.5" y="49.3" font-size="10">120</text>
<text x="643.5" y="84.8" font-size="10">80</text>
<text x="643.5" y="120.4" font-size="10">40</text>
<text x="643.5" y="155.9" font-size="10">0</text>
<text transform="translate(360.9,117.6) rotate(-90)" font-size="10.3" font-weight="bold" text-anchor="middle">Blood Pressure, mm Hg</text>
<text transform="translate(660.6,116.5) rotate(90)" font-size="10.35" font-weight="bold" text-anchor="middle">Heart Rate, bpm</text>
<line x1="464" y1="217.5" x2="539" y2="217.5" stroke="#000" stroke-width="1.15"/>
<path d="M461,217.5 L466.4,214.8 L466.4,220.2 Z M541.8,217.5 L536.4,214.8 L536.4,220.2 Z" fill="#000"/>
<text x="499.6" y="229.7" font-size="10" text-anchor="middle">15 sec</text>
</g>
<g id="C">
<text x="96.4" y="268.4" font-size="14.8" font-weight="bold" textLength="9.2" lengthAdjust="spacingAndGlyphs">C</text>
<path d="M119.6,473 L119.6,252.9 L552.3,252.9 L552.3,473" fill="none" stroke="#3a3a3a" stroke-width="1.3"/>
<line x1="119.6" y1="283.5" x2="552.3" y2="283.4" stroke="#3a3a3a" stroke-width="1.1"/>
<line x1="119.6" y1="471.8" x2="552.3" y2="471.8" stroke="#3a3a3a" stroke-width="1.3"/>
<text x="125.0" y="272.9" font-size="10" font-weight="bold" text-anchor="start" textLength="85.8" lengthAdjust="spacingAndGlyphs">Arterial Blood Gas</text>
<text x="304.3" y="272.9" font-size="10" font-weight="bold" text-anchor="middle" textLength="67.0" lengthAdjust="spacingAndGlyphs">Normal Range</text>
<text x="398.1" y="272.9" font-size="10" font-weight="bold" text-anchor="middle" textLength="56.4" lengthAdjust="spacingAndGlyphs">Sitting, Rest</text>
<text x="497.7" y="272.9" font-size="10" font-weight="bold" text-anchor="middle" textLength="85.6" lengthAdjust="spacingAndGlyphs">Standing, Exercise</text>
<text x="125.0" y="303.8" font-size="10" font-weight="bold">pH</text>
<text x="304.3" y="303.8" font-size="10" text-anchor="middle" textLength="42.8" lengthAdjust="spacing">7.35-7.45</text>
<text x="398.5" y="303.8" font-size="10" text-anchor="middle">7.44</text>
<text x="497.5" y="303.8" font-size="10" text-anchor="middle">7.35</text>
<text x="125.0" y="327.4" font-size="10" font-weight="bold">PO<tspan dy="1.8" font-size="6.5">2</tspan></text>
<text x="304.3" y="327.4" font-size="10" text-anchor="middle" textLength="59.8" lengthAdjust="spacing">73-97 mmHg</text>
<text x="398.5" y="327.4" font-size="10" text-anchor="middle">90</text>
<text x="497.5" y="327.4" font-size="10" text-anchor="middle">55</text>
<text x="125.0" y="350.9" font-size="10" font-weight="bold">PCO<tspan dy="1.8" font-size="6.5">2</tspan></text>
<text x="304.3" y="350.9" font-size="10" text-anchor="middle" textLength="59.8" lengthAdjust="spacing">35-45 mmHg</text>
<text x="398.5" y="350.9" font-size="10" text-anchor="middle">34</text>
<text x="497.5" y="350.9" font-size="10" text-anchor="middle">45</text>
<text x="125.0" y="374.5" font-size="10" font-weight="bold">O<tspan dy="1.8" font-size="6.5">2</tspan><tspan dy="-1.8"> saturation</tspan></text>
<text x="304.3" y="374.5" font-size="10" text-anchor="middle">&gt; 92 %</text>
<text x="398.5" y="374.5" font-size="10" text-anchor="middle">97</text>
<text x="497.5" y="374.5" font-size="10" text-anchor="middle">88</text>
<text x="125.0" y="398.0" font-size="10" font-weight="bold" textLength="56.9" lengthAdjust="spacingAndGlyphs">A-a gradient</text>
<text x="304.3" y="398.0" font-size="10" text-anchor="middle" textLength="60.4" lengthAdjust="spacing">5 - 15 mmHg</text>
<text x="398.5" y="398.0" font-size="10" text-anchor="middle">13</text>
<text x="497.5" y="398.0" font-size="10" text-anchor="middle">36</text>
<text x="125.0" y="421.6" font-size="10" font-weight="bold" textLength="50.9" lengthAdjust="spacingAndGlyphs">Hematocrit</text>
<text x="304.3" y="421.6" font-size="10" text-anchor="middle">38.8 - 50.0%</text>
<text x="398.5" y="421.6" font-size="10" text-anchor="middle">46.3</text>
<text x="497.5" y="421.6" font-size="10" text-anchor="middle">46.3</text>
<text x="125.0" y="445.1" font-size="10" font-weight="bold" textLength="82.4" lengthAdjust="spacingAndGlyphs">Lactate (exercise)</text>
<text x="304.3" y="445.1" font-size="10" text-anchor="middle" textLength="73.8" lengthAdjust="spacing">0.6 - 2.3 MEQ/L</text>
<text x="398.5" y="445.1" font-size="10" text-anchor="middle">1.7</text>
<text x="497.5" y="445.1" font-size="10" text-anchor="middle">4.8</text>
<text x="125.0" y="468.6" font-size="10" font-weight="bold" textLength="121.8" lengthAdjust="spacingAndGlyphs">Bicarbonate / base excess</text>
<text x="304.3" y="468.6" font-size="10" text-anchor="middle" textLength="67.3" lengthAdjust="spacing">22 - 26 MEQ/L</text>
<text x="398.5" y="468.6" font-size="10" text-anchor="middle">23 / -1</text>
<text x="497.5" y="468.6" font-size="10" text-anchor="middle">25 / -1</text>
</g>
</svg>
</body></html>
